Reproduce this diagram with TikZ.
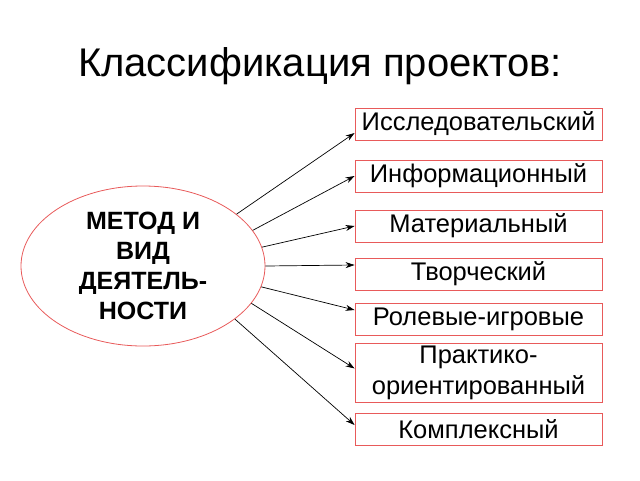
\documentclass[tikz,border=0pt]{standalone}
\usepackage{fontspec}
\setmainfont{Liberation Sans}
\usetikzlibrary{shapes.geometric,arrows.meta}
\definecolor{boxred}{RGB}{232,90,90}
\begin{document}
\begin{tikzpicture}[x=1pt,y=-1pt,
    kind/.style={draw=boxred, line width=0.8pt, minimum width=247pt, minimum height=32pt, inner sep=0pt, align=center, font=\fontsize{25.5}{31}\selectfont},
    link/.style={line width=0.7pt, -{Stealth[length=9pt,width=6pt]}}]
    \useasboundingbox (0,0) rectangle (640,480);

    % заголовок
    \node (title) at (320,66) {\fontsize{40}{44}\selectfont Классификация проектов:};

    % центральный эллипс
    \node[ellipse, draw=boxred, line width=0.8pt, minimum width=244pt, minimum height=160pt, inner sep=0pt, align=center,
          font=\bfseries\fontsize{25}{30}\selectfont] (ell) at (143,266) {МЕТОД И\\ВИД\\ДЕЯТЕЛЬ-\\НОСТИ};

    % виды проектов
    \node[kind] (b1) at (478.5,124) {Исследовательский};
    \node[kind] (b2) at (478.5,176) {Информационный};
    \node[kind] (b3) at (478.5,226) {Материальный};
    \node[kind] (b4) at (478.5,274) {Творческий};
    \node[kind] (b5) at (478.5,319) {Ролевые-игровые};
    \node[kind, minimum height=59pt] (b6) at (478.5,372.5) {Практико-\\ориентированный};
    \node[kind] (b7) at (478.5,429) {Комплексный};

    % стрелки
    \draw[link] (ell.29) -- ([yshift=-9pt]b1.west);
    \draw[link] (ell.18) -- (b2.west);
    \draw[link] (ell.9) -- (b3.west);
    \draw[link] (ell.0) -- ([yshift=9pt]b4.west);
    \draw[link] (ell.-10) -- ([yshift=9pt]b5.west);
    \draw[link] (ell.-19) -- ([yshift=4pt]b6.west);
    \draw[link] (ell.-30) -- ([yshift=4pt]b7.west);
\end{tikzpicture}
\end{document}
